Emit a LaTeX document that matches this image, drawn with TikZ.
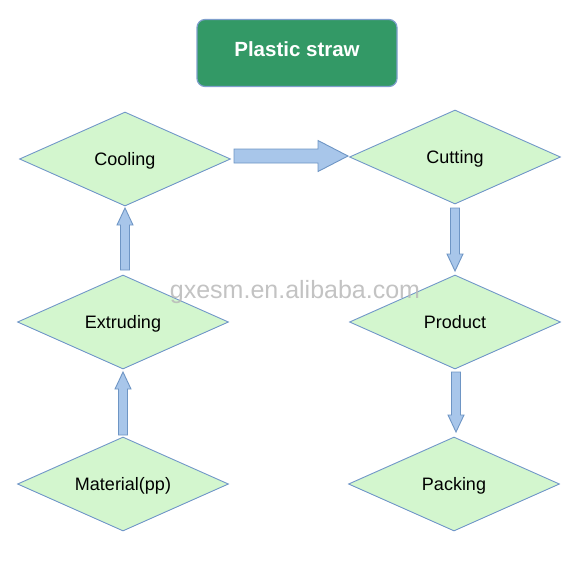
\documentclass[tikz,border=0pt]{standalone}
\usepackage{fontspec}
\setmainfont{Liberation Sans}
\usetikzlibrary{shapes.geometric,calc}
\definecolor{stepfill}{HTML}{D3F6CE}
\definecolor{stepline}{HTML}{7096C8}
\definecolor{titlefill}{HTML}{339966}
\definecolor{titleline}{HTML}{7F9FCC}
\definecolor{arrowfill}{HTML}{A8C6EA}
\definecolor{arrowline}{HTML}{6E95C4}
\definecolor{markgray}{HTML}{B8B8B8}
\tikzset{
  stepnode/.style={diamond,draw=stepline,fill=stepfill,line width=0.9pt,minimum width=211pt,minimum height=94pt,aspect=2.25,inner sep=0pt,text height=13pt,text depth=0pt,font=\fontsize{18}{20}\selectfont},
  titlenode/.style={rectangle,rounded corners=8pt,draw=titleline,fill=titlefill,line width=1.2pt,minimum width=200pt,minimum height=67pt,text height=15pt,text depth=8pt,text=white,font=\bfseries\fontsize{20.5}{24}\selectfont},
  fatarrow/.style={draw=arrowline,fill=arrowfill,line width=0.9pt,line join=miter}
}
% #1 shaft half width, #2 head half width, #3 head length, #4 from, #5 to
\newcommand\fatarrow[5]{%
  \draw[fatarrow] ($(#4)!#1!90:(#5)$) -- ($(#5)!#3!(#4)!#1!90:(#5)$) -- ($(#5)!#3!(#4)!#2!90:(#5)$) -- (#5)
    -- ($(#5)!#3!(#4)!#2!-90:(#5)$) -- ($(#5)!#3!(#4)!#1!-90:(#5)$) -- ($(#4)!#1!-90:(#5)$) -- cycle;}

\begin{document}
\begin{tikzpicture}[x=1pt,y=-1pt]
      \useasboundingbox (0,0) rectangle (588,584);

      \node[titlenode] (title) at (297,53) {Plastic straw};

      \node[stepnode] (cool) at (125,159) {Cooling};
      \node[stepnode] (cut) at (455,157) {Cutting};
      \node[stepnode] (ext) at (123,322) {Extruding};
      \node[stepnode] (prod) at (455,322) {Product};
      \node[stepnode] (mat) at (123,484) {Material(pp)};
      \node[stepnode] (pack) at (454,484) {Packing};

      \coordinate (cool-out) at (234,156);
      \coordinate (cut-in) at (348,156);
      \coordinate (ext-out) at (125,270);
      \coordinate (cool-in) at (125,208);
      \coordinate (mat-out) at (123,435);
      \coordinate (ext-in) at (123,372);
      \coordinate (cut-out) at (455,208);
      \coordinate (prod-in) at (455,271);
      \coordinate (prod-out) at (456,372);
      \coordinate (pack-in) at (456,432);

      \fatarrow{7pt}{15.5pt}{30pt}{cool-out}{cut-in}
      \fatarrow{4.5pt}{8pt}{17pt}{ext-out}{cool-in}
      \fatarrow{4.5pt}{8pt}{17pt}{mat-out}{ext-in}
      \fatarrow{4.5pt}{8pt}{17pt}{cut-out}{prod-in}
      \fatarrow{4.5pt}{8pt}{17pt}{prod-out}{pack-in}

      \node[text=markgray,font=\fontsize{25}{25}\selectfont,opacity=0.85] (mark) at (295,292) {gxesm.en.alibaba.com};
    \end{tikzpicture}
\end{document}
